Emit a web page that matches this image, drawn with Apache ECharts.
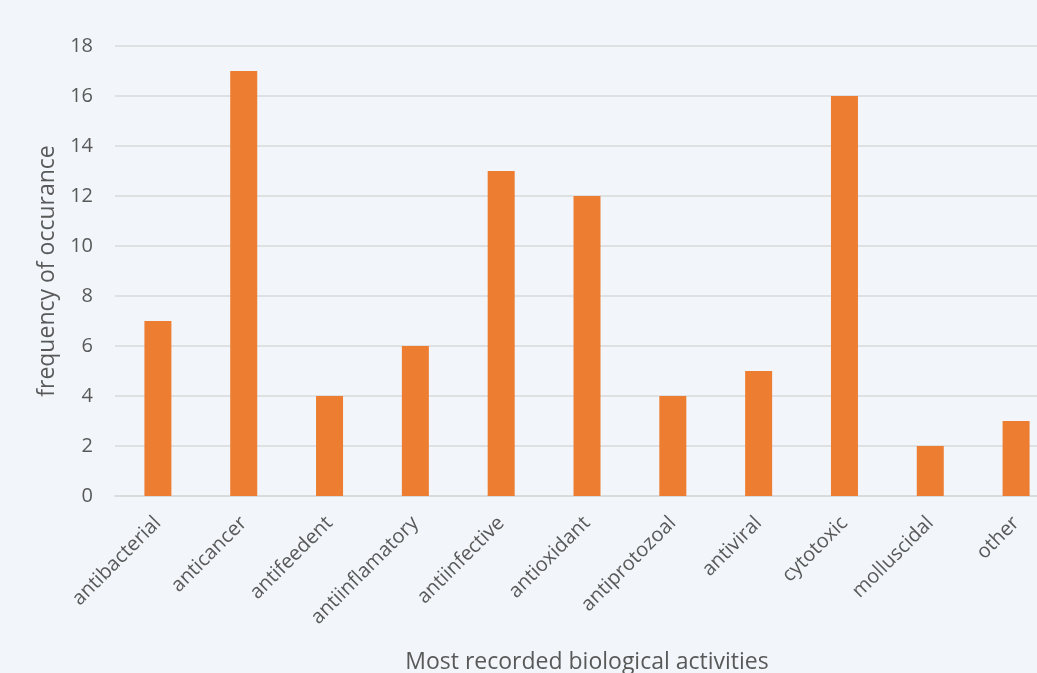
<!DOCTYPE html>
<html><head><meta charset="utf-8">
<script src="https://cdn.jsdelivr.net/npm/echarts@6/dist/echarts.min.js"></script>
<style>html,body{margin:0;padding:0;background:#f2f6fa;overflow:hidden;}#c{width:1037px;height:673px;}</style>
</head><body><div id="c"></div>
<script>
const categories = ['antibacterial','anticancer','antifeedent','antiinflamatory','antiinfective','antioxidant','antiprotozoal','antiviral','cytotoxic','molluscidal','other'];
const frequencies = [7,17,4,6,13,12,4,5,16,2,3];
const yTicks = {min:0, max:18, interval:2};
const xTitle = 'Most recorded biological activities';
const yTitle = 'frequency of occurance';

const chart = echarts.init(document.getElementById('c'));
const font = '"Open Sans", "Noto Sans", sans-serif';
chart.setOption({
  backgroundColor:'#f2f6fa',
  animation:false,
  grid:{left:115, right:-22, top:46, bottom:177, outerBoundsMode:'none', containLabel:false},
  xAxis:{
    type:'category', data:categories,
    name:xTitle, nameLocation:'middle', nameGap:155,
    nameTextStyle:{fontFamily:font, fontSize:23, color:'#595959'},
    axisLine:{lineStyle:{color:'#d9d9d9', width:1.5}},
    axisTick:{show:false},
    axisLabel:{rotate:45, fontFamily:font, fontSize:20, color:'#595959', margin:24, interval:0}
  },
  yAxis:{
    type:'value', min:yTicks.min, max:yTicks.max, interval:yTicks.interval,
    name:yTitle, nameLocation:'middle', nameGap:56,
    nameTextStyle:{fontFamily:font, fontSize:23, color:'#595959'},
    axisLine:{show:false}, axisTick:{show:false},
    axisLabel:{fontFamily:font, fontSize:20, color:'#595959', margin:22},
    splitLine:{lineStyle:{color:'#d9d9d9', width:1.5}}
  },
  series:[{type:'bar', data:frequencies, barWidth:27, itemStyle:{color:'#ed7d31'}}]
});
</script></body></html>
